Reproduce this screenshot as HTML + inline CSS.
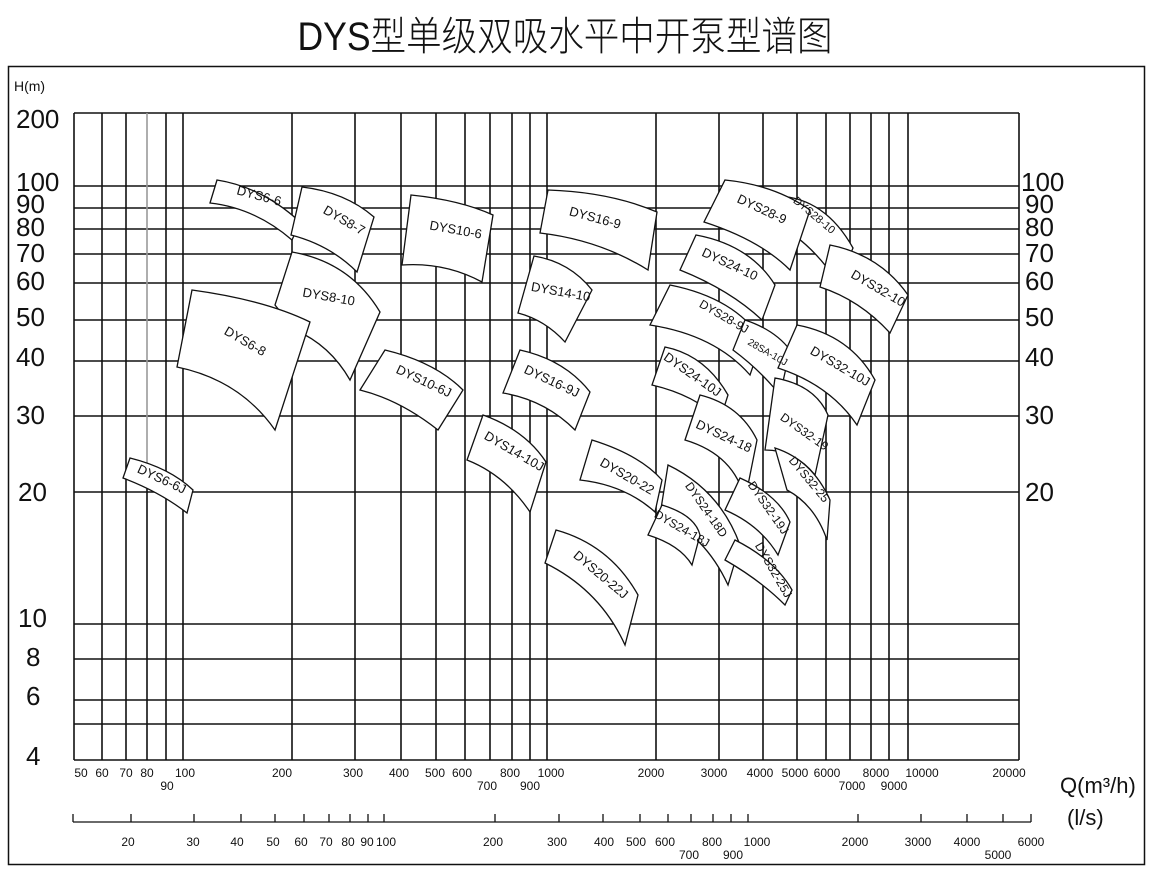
<!DOCTYPE html>
<html><head><meta charset="utf-8"><style>
html,body{margin:0;padding:0;background:#fff;}
svg{display:block;}
text{font-family:"Liberation Sans","Noto Sans CJK SC",sans-serif;fill:#111;}
</style></head><body>
<svg width="1150" height="869" viewBox="0 0 1150 869" xmlns="http://www.w3.org/2000/svg">
<rect x="0" y="0" width="1150" height="869" fill="#fff"/>
<text x="565" y="50" font-size="40" text-anchor="middle" font-family="'Liberation Sans','Noto Sans CJK SC',sans-serif" style="font-weight:300" textLength="535" lengthAdjust="spacingAndGlyphs">DYS型单级双吸水平中开泵型谱图</text>
<rect x="8.5" y="66.5" width="1136" height="798" fill="none" stroke="#111" stroke-width="1.5"/>
<text x="14" y="91" font-size="14" transform="scale(1,1)">H(m)</text>
<g stroke="#111" stroke-width="1.6">
<line x1="74" y1="113" x2="1019" y2="113"/>
<line x1="74" y1="186" x2="1019" y2="186"/>
<line x1="74" y1="208" x2="1019" y2="208"/>
<line x1="74" y1="229" x2="1019" y2="229"/>
<line x1="74" y1="254" x2="1019" y2="254"/>
<line x1="74" y1="283" x2="1019" y2="283"/>
<line x1="74" y1="320" x2="1019" y2="320"/>
<line x1="74" y1="361" x2="1019" y2="361"/>
<line x1="74" y1="416" x2="1019" y2="416"/>
<line x1="74" y1="492" x2="1019" y2="492"/>
<line x1="74" y1="624" x2="1019" y2="624"/>
<line x1="74" y1="659" x2="1019" y2="659"/>
<line x1="74" y1="700" x2="1019" y2="700"/>
<line x1="74" y1="724" x2="1019" y2="724"/>
<line x1="74" y1="760" x2="1019" y2="760"/>
<line x1="74" y1="113" x2="74" y2="760"/>
<line x1="102" y1="113" x2="102" y2="760"/>
<line x1="126" y1="113" x2="126" y2="760"/>
<line x1="147" y1="470" x2="147" y2="760"/>
<line x1="166" y1="113" x2="166" y2="760"/>
<line x1="183" y1="113" x2="183" y2="760"/>
<line x1="292" y1="113" x2="292" y2="760"/>
<line x1="355" y1="113" x2="355" y2="760"/>
<line x1="401" y1="113" x2="401" y2="760"/>
<line x1="436" y1="113" x2="436" y2="760"/>
<line x1="465" y1="113" x2="465" y2="760"/>
<line x1="490" y1="113" x2="490" y2="760"/>
<line x1="512" y1="113" x2="512" y2="760"/>
<line x1="530" y1="113" x2="530" y2="760"/>
<line x1="547" y1="113" x2="547" y2="760"/>
<line x1="656" y1="113" x2="656" y2="760"/>
<line x1="719" y1="113" x2="719" y2="760"/>
<line x1="763" y1="113" x2="763" y2="760"/>
<line x1="797" y1="113" x2="797" y2="760"/>
<line x1="826" y1="113" x2="826" y2="760"/>
<line x1="850" y1="113" x2="850" y2="760"/>
<line x1="871" y1="113" x2="871" y2="760"/>
<line x1="889" y1="113" x2="889" y2="760"/>
<line x1="908" y1="113" x2="908" y2="760"/>
<line x1="1019" y1="113" x2="1019" y2="760"/>
</g>
<line x1="147" y1="113" x2="147" y2="470" stroke="#999" stroke-width="1.6"/>
<!-- left labels -->
<g font-size="26" style="font-weight:300">
<text x="16" y="128">200</text>
<text x="16" y="191">100</text><text x="16" y="213">90</text><text x="16" y="236">80</text><text x="16" y="262">70</text><text x="16" y="290">60</text><text x="16" y="326">50</text><text x="16" y="366">40</text><text x="16" y="424">30</text><text x="18" y="501">20</text><text x="18" y="627">10</text><text x="26" y="666">8</text><text x="26" y="705">6</text><text x="26" y="765">4</text>
<text x="1021" y="191">100</text><text x="1025" y="213">90</text><text x="1025" y="236">80</text><text x="1025" y="262">70</text><text x="1025" y="290">60</text><text x="1025" y="326">50</text><text x="1025" y="366">40</text><text x="1025" y="424">30</text><text x="1025" y="501">20</text>
</g>
<!-- patches -->
<g fill="#fff" stroke="#111" stroke-width="1.3">
<path d="M217,180 Q262,187 300,222 L292,240 Q255,208 210,203 Z"/>
<path d="M292,252 Q350,262 380,312 L350,380 Q330,345 295,330 L275,305 Z"/>
<path d="M302,187 Q345,192 374,217 L357,272 Q330,245 291,235 Z"/>
<path d="M192,290 Q265,300 310,322 L275,430 Q240,380 177,367 Z"/>
<path d="M411,195 Q460,200 493,215 L482,282 Q445,262 402,265 Z"/>
<path d="M385,350 Q435,362 463,390 L438,430 Q400,400 360,390 Z"/>
<path d="M548,190 Q610,192 657,212 L648,270 Q600,240 540,233 Z"/>
<path d="M534,256 Q570,262 592,290 L565,342 Q545,320 518,313 Z"/>
<path d="M520,350 Q565,360 590,392 L575,430 Q545,400 503,393 Z"/>
<path d="M483,415 Q525,430 546,462 L530,512 Q505,475 467,460 Z"/>
<path d="M592,440 Q640,455 662,480 L655,512 Q625,485 580,480 Z"/>
<path d="M556,530 Q610,545 638,595 L625,645 Q600,590 545,563 Z"/>
<path d="M130,458 Q170,468 193,490 L187,513 Q160,492 123,478 Z"/>
<path d="M778,196 Q825,198 853,248 L838,283 Q810,240 772,222 Z"/>
<path d="M725,180 Q775,185 810,210 L790,270 Q760,240 704,222 Z"/>
<path d="M830,245 Q880,255 908,295 L890,333 Q860,300 820,287 Z"/>
<path d="M696,235 Q750,245 775,285 L762,320 Q730,290 680,270 Z"/>
<path d="M670,285 Q735,298 762,340 L750,375 Q715,335 650,325 Z"/>
<path d="M745,320 Q775,330 790,350 L780,395 Q760,370 733,350 Z"/>
<path d="M797,325 Q850,335 875,380 L857,425 Q830,385 778,368 Z"/>
<path d="M665,347 Q705,355 728,395 L720,420 Q695,395 652,385 Z"/>
<path d="M775,378 Q815,385 828,415 L815,475 Q795,450 765,450 Z"/>
<path d="M700,395 Q740,405 757,440 L745,500 Q735,455 685,440 Z"/>
<path d="M775,448 Q812,460 830,500 L827,540 Q815,505 787,490 Z"/>
<path d="M668,465 Q720,490 740,545 L728,585 Q705,535 660,515 Z"/>
<path d="M740,478 Q778,495 790,522 L778,555 Q760,525 725,510 Z"/>
<path d="M662,505 Q695,515 700,535 L692,565 Q680,545 648,535 Z"/>
<path d="M735,540 Q775,560 792,590 L785,605 Q760,580 725,560 Z"/>
</g>
<g font-size="13" text-anchor="middle">
<text transform="translate(258,200) rotate(15)">DYS6-6</text>
<text transform="translate(342,224) rotate(30)">DYS8-7</text>
<text transform="translate(328,301) rotate(10)">DYS8-10</text>
<text transform="translate(243,345) rotate(30)">DYS6-8</text>
<text transform="translate(455,234) rotate(10)">DYS10-6</text>
<text transform="translate(422,385) rotate(25)">DYS10-6J</text>
<text transform="translate(594,222) rotate(15)">DYS16-9</text>
<text transform="translate(560,296) rotate(10)">DYS14-10</text>
<text transform="translate(550,385) rotate(25)">DYS16-9J</text>
<text transform="translate(512,455) rotate(30)">DYS14-10J</text>
<text transform="translate(625,480) rotate(30)">DYS20-22</text>
<text transform="translate(598,578) rotate(40)">DYS20-22J</text>
<text transform="translate(160,483) rotate(25)">DYS6-6J</text>
<text transform="translate(760,213) rotate(25)">DYS28-9</text>
<text transform="translate(812,218) rotate(40)" font-size="11">DYS28-10</text>
<text transform="translate(876,292) rotate(30)">DYS32-10</text>
<text transform="translate(728,268) rotate(25)">DYS24-10</text>
<text transform="translate(722,320) rotate(30)" font-size="12">DYS28-9J</text>
<text transform="translate(766,355) rotate(30)" font-size="10">28SA-10J</text>
<text transform="translate(838,370) rotate(30)">DYS32-10J</text>
<text transform="translate(690,378) rotate(35)">DYS24-10J</text>
<text transform="translate(722,440) rotate(25)">DYS24-18</text>
<text transform="translate(802,435) rotate(35)" font-size="12">DYS32-19</text>
<text transform="translate(806,482) rotate(50)" font-size="12">DYS32-25</text>
<text transform="translate(703,512) rotate(55)" font-size="12">DYS24-18D</text>
<text transform="translate(765,510) rotate(55)" font-size="12">DYS32-19J</text>
<text transform="translate(680,532) rotate(30)" font-size="12">DYS24-18J</text>
<text transform="translate(770,572) rotate(60)" font-size="12">DYS32-25J</text>
</g>
<!-- x axis labels m3/h -->
<g font-size="12" text-anchor="middle">
<text x="81" y="777">50</text><text x="102" y="777">60</text><text x="126" y="777">70</text><text x="147" y="777">80</text><text x="167" y="790">90</text><text x="185" y="777">100</text><text x="282" y="777">200</text><text x="353" y="777">300</text><text x="399" y="777">400</text><text x="435" y="777">500</text><text x="462" y="777">600</text><text x="487" y="790">700</text><text x="510" y="777">800</text><text x="530" y="790">900</text><text x="551" y="777">1000</text><text x="651" y="777">2000</text><text x="714" y="777">3000</text><text x="760" y="777">4000</text><text x="795" y="777">5000</text><text x="827" y="777">6000</text><text x="876" y="777">8000</text><text x="852" y="790">7000</text><text x="894" y="790">9000</text><text x="922" y="777">10000</text><text x="1009" y="777">20000</text>
</g>
<text x="1060" y="793" font-size="22" style="font-weight:300">Q(m³/h)</text>
<text x="1067" y="825" font-size="22" style="font-weight:300">(l/s)</text>
<g stroke="#111" stroke-width="1.3">
<line x1="73" y1="822" x2="1031" y2="822"/>
<line x1="73" y1="814" x2="73" y2="822"/><line x1="131" y1="814" x2="131" y2="822"/><line x1="194" y1="814" x2="194" y2="822"/><line x1="241" y1="814" x2="241" y2="822"/><line x1="275" y1="814" x2="275" y2="822"/><line x1="304" y1="814" x2="304" y2="822"/><line x1="329" y1="814" x2="329" y2="822"/><line x1="350" y1="814" x2="350" y2="822"/><line x1="368" y1="814" x2="368" y2="822"/><line x1="384" y1="814" x2="384" y2="822"/><line x1="495" y1="814" x2="495" y2="822"/><line x1="559" y1="814" x2="559" y2="822"/><line x1="603" y1="814" x2="603" y2="822"/><line x1="640" y1="814" x2="640" y2="822"/><line x1="668" y1="814" x2="668" y2="822"/><line x1="691" y1="814" x2="691" y2="822"/><line x1="713" y1="814" x2="713" y2="822"/><line x1="731" y1="814" x2="731" y2="822"/><line x1="748" y1="814" x2="748" y2="822"/><line x1="858" y1="814" x2="858" y2="822"/><line x1="921" y1="814" x2="921" y2="822"/><line x1="967" y1="814" x2="967" y2="822"/><line x1="1003" y1="814" x2="1003" y2="822"/><line x1="1031" y1="814" x2="1031" y2="822"/>
</g>
<g font-size="12" text-anchor="middle">
<text x="128" y="846">20</text><text x="193" y="846">30</text><text x="237" y="846">40</text><text x="273" y="846">50</text><text x="301" y="846">60</text><text x="326" y="846">70</text><text x="348" y="846">80</text><text x="367" y="846">90</text><text x="386" y="846">100</text><text x="493" y="846">200</text><text x="557" y="846">300</text><text x="604" y="846">400</text><text x="636" y="846">500</text><text x="665" y="846">600</text><text x="689" y="859">700</text><text x="712" y="846">800</text><text x="733" y="859">900</text><text x="757" y="846">1000</text><text x="855" y="846">2000</text><text x="918" y="846">3000</text><text x="967" y="846">4000</text><text x="998" y="859">5000</text><text x="1031" y="846">6000</text>
</g>
</svg>
</body></html>
